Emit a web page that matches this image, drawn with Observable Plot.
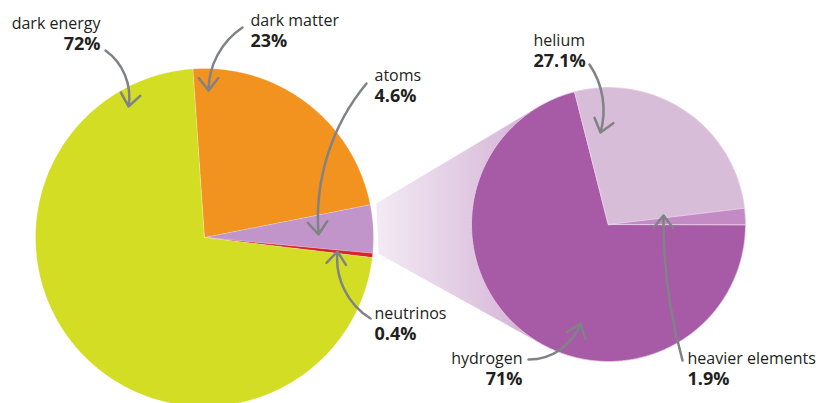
<!DOCTYPE html>
<html><head><meta charset="utf-8">
<script src="https://cdn.jsdelivr.net/npm/d3@7"></script>
<script src="https://cdn.jsdelivr.net/npm/@observablehq/plot@0.6"></script>
<style>
html,body{margin:0;padding:0;background:#fff;}
#chart svg{display:block;}
</style>
</head><body><div id="chart"></div>
<script>
// ---- data ----
const universeNames = ["dark matter", "atoms", "neutrinos", "dark energy"];
const universeValues = [23, 4.6, 0.4, 72];
const universeLabels = ["23%", "4.6%", "0.4%", "72%"];
const atomNames = ["hydrogen", "helium", "heavier elements"];
const atomValues = [71, 27.1, 1.9];
const atomLabels = ["71%", "27.1%", "1.9%"];

// ---- styles / layout ----
const universeColors = ["#f2921f", "#c195c9", "#d9232b", "#d3dd23"];
const atomColors = ["#a75aa6", "#d8bdd9", "#c28bc3"];
const W = 827, H = 403;
const leftPie = {cx: 204, cy: 237, r: 169, start: -4};
const rightPie = {cx: 608, cy: 224, r: 137, start: 90};
const textColor = "#231f20", arrowColor = "#808386";

// label + arrow layout (pixel-space annotation positions)
const labelLayout = {
  "dark energy":      {x: 100, y: 28,  anchor: "end",   from: [105, 50],  to: [128, 106], bend: 32},
  "dark matter":      {x: 250, y: 25,  anchor: "start", from: [242, 27],  to: [208, 90],  bend: -28},
  "atoms":            {x: 374, y: 80,  anchor: "start", from: [366, 83],  to: [318, 234], bend: -22},
  "neutrinos":        {x: 374, y: 318, anchor: "start", from: [370, 318], to: [337, 251], bend: 32},
  "helium":           {x: 533, y: 45,  anchor: "start", from: [589, 64],  to: [600, 132], bend: 25},
  "hydrogen":         {x: 522, y: 363, anchor: "end",   from: [528, 359], to: [580, 323], bend: -35},
  "heavier elements": {x: 687, y: 363, anchor: "start", from: [682, 360], to: [663, 215], bend: 8}
};

function slices(values, names, colors, pie) {
  const a0 = pie.start * Math.PI / 180;
  const arcs = d3.pie().sort(null).startAngle(a0).endAngle(a0 + 2 * Math.PI)(values);
  return arcs.map((a, i) => {
    const n = Math.max(2, Math.ceil((a.endAngle - a.startAngle) / 0.01));
    const pts = [{x: pie.cx, y: pie.cy}];
    for (let k = 0; k <= n; k++) {
      const t = a.startAngle + (a.endAngle - a.startAngle) * k / n;
      pts.push({x: pie.cx + pie.r * Math.sin(t), y: pie.cy - pie.r * Math.cos(t)});
    }
    return {name: names[i], color: colors[i], startAngle: a.startAngle, endAngle: a.endAngle, pts};
  });
}

const leftSlices = slices(universeValues, universeNames, universeColors, leftPie);
const rightSlices = slices(atomValues, atomNames, atomColors, rightPie);

// cone from the atoms slice to the atoms pie
function cone() {
  const atoms = leftSlices[universeNames.indexOf("atoms")];
  const rr = leftPie.r + 6;
  const P1 = {x: leftPie.cx + rr * Math.sin(atoms.startAngle), y: leftPie.cy - rr * Math.cos(atoms.startAngle)};
  const P2 = {x: leftPie.cx + rr * Math.sin(atoms.endAngle), y: leftPie.cy - rr * Math.cos(atoms.endAngle)};
  const C = rightPie, r = C.r;
  const tang = (P, sign) => {
    const dx = P.x - C.cx, dy = P.y - C.cy, d = Math.hypot(dx, dy);
    return Math.atan2(dy, dx) + sign * Math.acos(r / d);
  };
  const t1 = tang(P1, 1), t2 = tang(P2, -1) + 2 * Math.PI;
  const pts = [P1];
  const n = 60;
  for (let k = 0; k <= n; k++) {
    const t = t1 + (t2 - t1) * k / n;
    pts.push({x: C.cx + r * Math.cos(t), y: C.cy + r * Math.sin(t)});
  }
  pts.push(P2);
  return pts;
}
const conePts = cone();

const ann = [
  ...universeNames.map((n, i) => ({name: n, value: universeLabels[i], ...labelLayout[n]})),
  ...atomNames.map((n, i) => ({name: n, value: atomLabels[i], ...labelLayout[n]}))
];

const font = "'Open Sans', 'Noto Sans', sans-serif";

const arrowMarks = ann.map(d => Plot.arrow([d], {
  x1: a => a.from[0], y1: a => a.from[1], x2: a => a.to[0], y2: a => a.to[1],
  bend: d.bend, stroke: arrowColor, strokeWidth: 2.5, headLength: 9.5, headAngle: 76
}));
const textMarks = ["start", "end"].flatMap(anchor => {
  const data = ann.filter(d => d.anchor === anchor);
  return [
    Plot.text(data, {x: "x", y: "y", text: "name", textAnchor: anchor, lineAnchor: "bottom",
      fill: textColor, fontSize: 16, fontFamily: font}),
    Plot.text(data, {x: "x", y: d => d.y + 21.5, text: "value", textAnchor: anchor, lineAnchor: "bottom",
      fill: textColor, fontSize: 18, fontWeight: "bold", fontFamily: font})
  ];
});

const plot = Plot.plot({
  width: W, height: H,
  margin: 0,
  x: {domain: [0, W], axis: null},
  y: {domain: [0, H], reverse: true, axis: null},
  style: {background: "#fff", fontFamily: font},
  marks: [
    Plot.line(conePts, {x: "x", y: "y", fill: "url(#coneGrad)", stroke: "none", curve: "linear-closed"}),
    ...leftSlices.map(s => Plot.line(s.pts, {x: "x", y: "y", fill: s.color, stroke: "#fff", strokeWidth: 0.4, strokeOpacity: 0.6, curve: "linear-closed"})),
    ...rightSlices.map(s => Plot.line(s.pts, {x: "x", y: "y", fill: s.color, stroke: "#eed2ec", strokeWidth: 0.8, curve: "linear-closed"})),
    ...arrowMarks,
    ...textMarks
  ]
});

// gradient definition for the cone
const ns = "http://www.w3.org/2000/svg";
const defs = document.createElementNS(ns, "defs");
const grad = document.createElementNS(ns, "linearGradient");
grad.setAttribute("id", "coneGrad");
grad.setAttribute("x1", "0"); grad.setAttribute("x2", "1"); grad.setAttribute("y1", "0"); grad.setAttribute("y2", "0");
[["0", "#f3eaf4"], ["0.35", "#d9bcdb"], ["0.68", "#b97cba"], ["1", "#a95fa8"]].forEach(([o, c]) => {
  const st = document.createElementNS(ns, "stop");
  st.setAttribute("offset", o); st.setAttribute("stop-color", c);
  grad.appendChild(st);
});
defs.appendChild(grad);
plot.insertBefore(defs, plot.firstChild);
document.getElementById("chart").appendChild(plot);
</script>
</body></html>
